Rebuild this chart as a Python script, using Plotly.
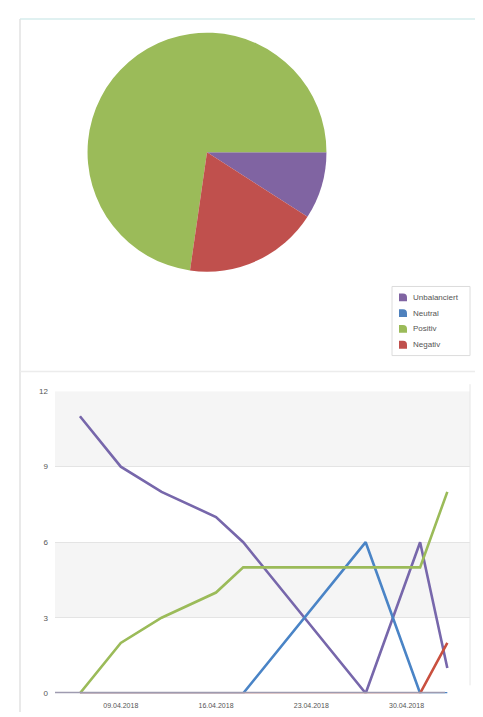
import plotly.graph_objects as go

# page is rendered with an 8px body margin; figure sized to fit the window
OFF = 8
W, H = 483 - OFF, 717 - OFF

categories = ["Unbalanciert", "Neutral", "Positiv", "Negativ"]
colors = ["#8064a2", "#4f81bd", "#9bbb59", "#c0504d"]

dates = ["2018-04-06", "2018-04-09", "2018-04-12", "2018-04-16",
         "2018-04-18", "2018-04-27", "2018-05-01", "2018-05-03"]
unbalanciert = [11, 9, 8, 7, 6, 0, 6, 1]
neutral = [0, 0, 0, 0, 0, 6, 0, 0]
positiv = [0, 2, 3, 4, 5, 5, 5, 8]
negativ = [0, 0, 0, 0, 0, 0, 0, 2]
series = [unbalanciert, neutral, positiv, negativ]

pie_values = [s[-1] for s in series]

tick_dates = ["2018-04-09", "2018-04-16", "2018-04-23", "2018-04-30"]
tick_text = ["09.04.2018", "16.04.2018", "23.04.2018", "30.04.2018"]
y_ticks = [0, 3, 6, 9, 12]


def px(x):
    return (x - OFF) / W


def py(y):
    return 1 - (y - OFF) / H


fig = go.Figure()

fig.add_trace(go.Pie(
    labels=categories, values=pie_values, sort=False,
    direction="counterclockwise", rotation=90,
    marker=dict(colors=colors, line=dict(width=0)),
    textinfo="none", hoverinfo="label+value",
    domain=dict(x=[px(86), px(328)], y=[py(271), py(29)]),
    showlegend=False,
))

line_colors = ["#7767ab", "#4a84c6", "#9bbb59", "#c9503f"]
for name, vals, c in zip(categories, series, line_colors):
    fig.add_trace(go.Scatter(
        x=dates, y=vals, mode="lines", name=name,
        line=dict(color=c, width=2.6), showlegend=False,
    ))

shapes = []
for y0, y1 in [(9, 12), (3, 6)]:
    shapes.append(dict(type="rect", xref="x domain", yref="y", x0=0, x1=1,
                       y0=y0, y1=y1, fillcolor="#f5f5f5", line=dict(width=0),
                       layer="below"))
# baseline drawn over the series lying on zero
shapes.append(dict(type="line", xref="x domain", yref="y", x0=0,
                   x1=(445 - 55) / (470 - 55), y0=0, y1=0, layer="above",
                   line=dict(color="#9e9bb0", width=2.8)))
# panel borders
shapes.append(dict(type="line", xref="paper", yref="paper", x0=px(20), x1=1,
                   y0=py(15), y1=py(15), line=dict(color="#d6ecec", width=1.5)))
shapes.append(dict(type="line", xref="paper", yref="paper", x0=px(20), x1=px(20),
                   y0=py(15), y1=0, line=dict(color="#e2e2e2", width=1.5)))
shapes.append(dict(type="line", xref="paper", yref="paper", x0=px(20), x1=1,
                   y0=py(372), y1=py(372), line=dict(color="#ececec", width=1.5)))
shapes.append(dict(type="line", xref="paper", yref="paper", x0=px(470), x1=px(470),
                   y0=py(385), y1=py(690), line=dict(color="#e6e6e6", width=1)))

# legend box (drawn to match the small legend of the reference)
shapes.append(dict(type="rect", xref="paper", yref="paper",
                   x0=px(392), x1=px(470), y0=py(286), y1=py(356),
                   line=dict(color="#dcdcdc", width=1), fillcolor="white"))
annotations = []
leg_y = [297, 313, 329, 345]
for name, c, yy in zip(categories, colors, leg_y):
    x0, x1 = px(399), px(407)
    ytop, ybot = py(yy - 4), py(yy + 4)
    xm = px(403)
    ym = py(yy)
    path = (f"M {x0},{ybot} L {x0},{ytop} L {xm},{ytop} "
            f"Q {x1},{ytop} {x1},{ym} L {x1},{ybot} Z")
    shapes.append(dict(type="path", xref="paper", yref="paper", path=path,
                       fillcolor=c, line=dict(width=0)))
    annotations.append(dict(xref="paper", yref="paper", x=px(411), y=py(yy),
                            xanchor="left", yanchor="middle", showarrow=False,
                            text=name, font=dict(size=8, color="#555")))

fig.update_layout(
    width=W, height=H,
    margin=dict(l=0, r=0, t=0, b=0),
    paper_bgcolor="white", plot_bgcolor="white",
    font=dict(family="Liberation Sans, Arial, sans-serif", size=8, color="#555"),
    shapes=shapes, annotations=annotations,
    showlegend=False,
    xaxis=dict(domain=[px(55), px(470)], type="date",
               range=["2018-04-04 04:00", "2018-05-04 16:00"],
               tickvals=tick_dates, ticktext=tick_text,
               showgrid=False, zeroline=False, showline=False,
               tickfont=dict(size=7, color="#555"), ticks="",
               ticklabelstandoff=7),
    yaxis=dict(domain=[py(698), py(392)], range=[0, 12],
               tickvals=y_ticks, showgrid=True, gridcolor="#e4e4e4",
               gridwidth=1, zeroline=False, showline=False,
               tickfont=dict(size=8, color="#555"), ticks="",
               ticklabelstandoff=6),
)

fig.write_html("out.html")
